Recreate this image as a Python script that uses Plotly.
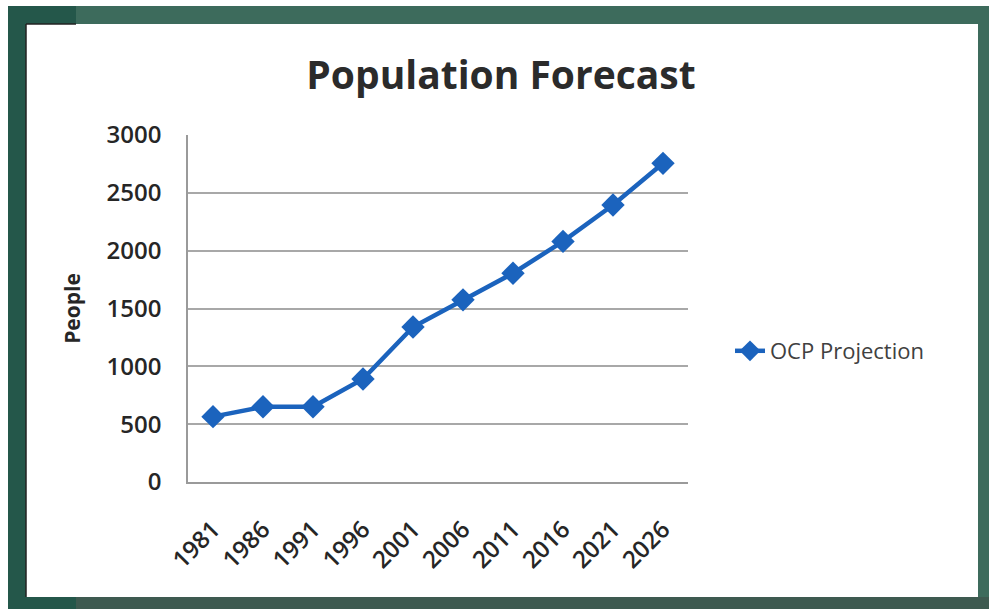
import plotly.graph_objects as go

# Census years and projected population
years = ["1981", "1986", "1991", "1996", "2001", "2006", "2011", "2016", "2021", "2026"]
people = [565, 650, 650, 890, 1340, 1575, 1805, 2080, 2395, 2755]
y_ticks = [0, 500, 1000, 1500, 2000, 2500, 3000]

W, H = 989, 609
L, R, T, B = 188, 301, 135, 127
PW, PH = W - L - R, H - T - B


def px_x(x):
    return (x - L) / PW


def px_y(y):
    return (H - B - y) / PH


def frame_rect(x0, y0, x1, y1, color):
    return dict(type="rect", xref="paper", yref="paper", layer="below",
                x0=px_x(x0), x1=px_x(x1), y0=px_y(y1), y1=px_y(y0),
                fillcolor=color, line=dict(width=0))


def frame_line(x0, y0, x1, y1, color, width=1):
    return dict(type="line", xref="paper", yref="paper", layer="below",
                x0=px_x(x0), x1=px_x(x1), y0=px_y(y0), y1=px_y(y1),
                line=dict(color=color, width=width))


fig = go.Figure()
fig.add_trace(go.Scatter(
    x=years, y=people, mode="lines+markers", name="OCP Projection",
    line=dict(color="#1b63bd", width=4.5),
    marker=dict(symbol="diamond", size=18, color="#1b63bd"),
))

shapes = [
    frame_rect(8, 6, 989, 609, "#3d6b5c"),
    frame_rect(8, 6, 26, 609, "#24574a"),
    frame_rect(8, 6, 76, 24, "#24574a"),
    frame_rect(8, 597, 76, 609, "#24574a"),
    frame_rect(76, 597, 989, 609, "#3e5a50"),
    frame_rect(26, 24, 978, 597, "#ffffff"),
    frame_line(26, 24, 26, 597, "#222222", 1.5),
    frame_line(26, 24, 76, 24, "#222222", 1.5),
]

tick_font = dict(family="Open Sans", size=24, color="#262626", weight=600)

fig.update_layout(
    width=W, height=H,
    margin=dict(l=L, r=R, t=T, b=B),
    paper_bgcolor="#ffffff",
    plot_bgcolor="#ffffff",
    shapes=shapes,
    font=dict(family="Open Sans", color="#2b2b2b"),
    title=dict(
        text="Population Forecast",
        font=dict(family="Open Sans", size=39, color="#2b2b2b", weight=700),
        x=px_x(501), xref="paper", xanchor="center",
        y=1 - 75 / H, yref="container", yanchor="middle",
    ),
    showlegend=True,
    legend=dict(
        x=px_x(730), xanchor="left", y=px_y(351), yanchor="middle",
        font=dict(family="Open Sans", size=22, color="#404040"),
        bgcolor="rgba(0,0,0,0)", borderwidth=0,
    ),
    xaxis=dict(
        type="category", tickangle=-45, showgrid=False,
        showline=True, linecolor="#9a9a9a", linewidth=1.5,
        ticks="", ticklabelstandoff=22, tickfont=tick_font,
        range=[-0.5, 9.5], fixedrange=True,
    ),
    yaxis=dict(
        range=[0, 3000], tickvals=y_ticks, showgrid=True,
        gridcolor="#a8a8a8", gridwidth=1.5,
        showline=True, linecolor="#9a9a9a", linewidth=1.5,
        ticks="", ticklabelstandoff=20, tickfont=tick_font,
        title=dict(text="People", standoff=20,
                   font=dict(family="Open Sans", size=21, color="#262626", weight=700)),
        zeroline=False, fixedrange=True,
    ),
)

fig.write_html("out.html")
